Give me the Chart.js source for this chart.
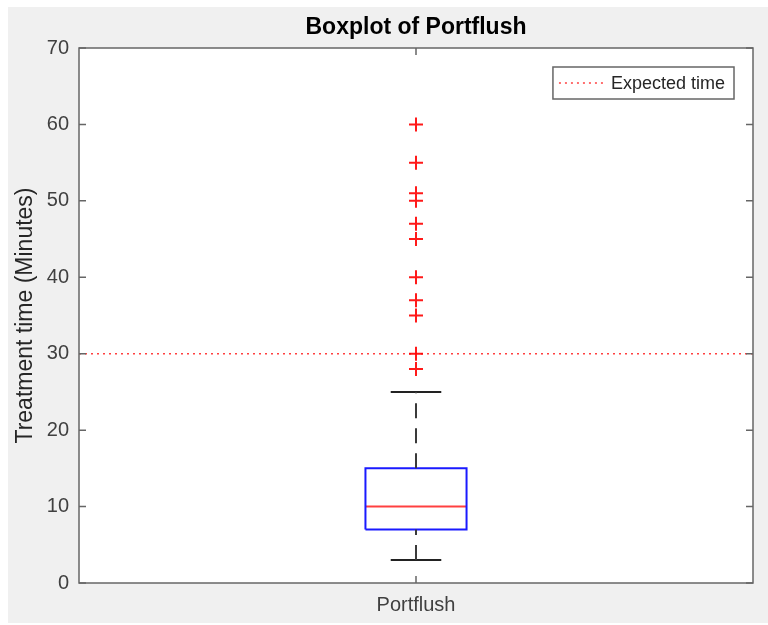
<!DOCTYPE html>
<html>
<head>
<meta charset="utf-8">
<script src="https://cdn.jsdelivr.net/npm/chart.js@4.4.1/dist/chart.umd.min.js"></script>
<style>
  html, body { margin: 0; padding: 0; background: #ffffff; }
  #wrap { position: absolute; left: 8px; top: 7px; width: 760px; height: 616px; background: #f0f0f0; }
</style>
</head>
<body>
<div id="wrap"><canvas id="boxChart"></canvas></div>
<script>
// Dados do boxplot
const categories = ['Portflush'];
const q1 = [7];
const median = [10];
const q3 = [15];
const whiskerLow = [3];
const whiskerHigh = [25];
const outliers = [28, 30, 35, 37, 40, 45, 47, 50, 51, 55, 60];
const expectedTime = [30];
const yTicks = [0, 10, 20, 30, 40, 50, 60, 70];

const chartTitle = 'Boxplot of Portflush';
const FONT = "'Liberation Sans', Arial, Helvetica, sans-serif";
const boxHalf = 0.075;   // meia largura da caixa (unidades do eixo x)
const capHalf = 0.0375;  // meia largura dos "caps"

const pos = 1; // posição da categoria no eixo x

// Dados para cada parte do boxplot
const boxData = [
  { x: pos - boxHalf, y: q1[0] }, { x: pos + boxHalf, y: q1[0] },
  { x: pos + boxHalf, y: q3[0] }, { x: pos - boxHalf, y: q3[0] },
  { x: pos - boxHalf, y: q1[0] }
];

const datasets = [
  {
    label: 'Expected time',
    data: [{ x: 0.5, y: expectedTime[0] }, { x: 1.5, y: expectedTime[0] }],
    showLine: true, borderColor: 'rgba(255, 0, 0, 0.75)', borderWidth: 1.5,
    borderDash: [2, 4], pointRadius: 0, inLegend: true,
  },
  {
    label: 'upper whisker',
    data: [{ x: pos, y: q3[0] }, { x: pos, y: whiskerHigh[0] }],
    showLine: true, borderColor: '#3a3a3a', borderWidth: 2, borderDash: [15, 10], pointRadius: 0,
  },
  {
    label: 'lower whisker',
    data: [{ x: pos, y: whiskerLow[0] }, { x: pos, y: q1[0] }],
    showLine: true, borderColor: '#3a3a3a', borderWidth: 2, borderDash: [15, 10], pointRadius: 0,
  },
  {
    label: 'upper cap',
    data: [{ x: pos - capHalf, y: whiskerHigh[0] }, { x: pos + capHalf, y: whiskerHigh[0] }],
    showLine: true, borderColor: '#222222', borderWidth: 2, pointRadius: 0,
  },
  {
    label: 'lower cap',
    data: [{ x: pos - capHalf, y: whiskerLow[0] }, { x: pos + capHalf, y: whiskerLow[0] }],
    showLine: true, borderColor: '#222222', borderWidth: 2, pointRadius: 0,
  },
  {
    label: 'box',
    data: boxData,
    showLine: true, borderColor: '#1a1aff', borderWidth: 2, pointRadius: 0,
  },
  {
    label: 'median',
    data: [{ x: pos - boxHalf, y: median[0] }, { x: pos + boxHalf, y: median[0] }],
    showLine: true, borderColor: '#ff4040', borderWidth: 2, pointRadius: 0,
  },
  {
    label: 'outliers',
    data: outliers.map(v => ({ x: pos, y: v })),
    showLine: false, pointStyle: 'cross', pointRadius: 7, pointBorderWidth: 2,
    pointBorderColor: '#ff1a1a', pointBackgroundColor: '#ff1a1a',
  },
];

// Plugin: fundo branco, moldura, ticks para dentro, título e legenda estilo MATLAB
const matlabFrame = {
  id: 'matlabFrame',
  beforeDraw(chart) {
    const { ctx, chartArea: a } = chart;
    ctx.save();
    ctx.fillStyle = '#ffffff';
    ctx.fillRect(a.left, a.top, a.width, a.height);
    ctx.restore();
  },
  afterDraw(chart) {
    const { ctx, chartArea: a, scales } = chart;
    ctx.save();
    ctx.strokeStyle = '#666666';
    ctx.lineWidth = 1.5;
    ctx.strokeRect(a.left, a.top, a.width, a.height);
    ctx.beginPath();
    scales.y.ticks.forEach(t => {
      const py = scales.y.getPixelForValue(t.value);
      ctx.moveTo(a.left, py); ctx.lineTo(a.left + 7, py);
      ctx.moveTo(a.right, py); ctx.lineTo(a.right - 7, py);
    });
    scales.x.ticks.forEach(t => {
      const px = scales.x.getPixelForValue(t.value);
      ctx.moveTo(px, a.bottom); ctx.lineTo(px, a.bottom - 7);
      ctx.moveTo(px, a.top); ctx.lineTo(px, a.top + 7);
    });
    ctx.stroke();

    // título centrado sobre a área do gráfico
    ctx.fillStyle = '#000000';
    ctx.font = 'bold 23px ' + FONT;
    ctx.textAlign = 'center';
    ctx.textBaseline = 'middle';
    ctx.fillText(chartTitle, (a.left + a.right) / 2, a.top - 20);

    // legenda
    const ds = chart.data.datasets.find(d => d.inLegend);
    ctx.font = '18px ' + FONT;
    ctx.textAlign = 'left';
    const textW = ctx.measureText(ds.label).width;
    const w = 58 + textW + 9, h = 32;
    const left = a.right - 19 - w, top = a.top + 19;
    ctx.fillStyle = '#ffffff';
    ctx.fillRect(left, top, w, h);
    ctx.strokeStyle = '#666666';
    ctx.lineWidth = 1.5;
    ctx.strokeRect(left, top, w, h);
    ctx.beginPath();
    ctx.strokeStyle = ds.borderColor;
    ctx.lineWidth = ds.borderWidth;
    ctx.setLineDash(ds.borderDash);
    ctx.moveTo(left + 6, top + h / 2);
    ctx.lineTo(left + 52, top + h / 2);
    ctx.stroke();
    ctx.setLineDash([]);
    ctx.fillStyle = '#262626';
    ctx.fillText(ds.label, left + 58, top + h / 2 + 1);
    ctx.restore();
  }
};

const ctxBox = document.getElementById('boxChart').getContext('2d');

new Chart(ctxBox, {
  type: 'scatter',
  data: { datasets: datasets },
  options: {
    responsive: true,
    maintainAspectRatio: false,
    animation: false,
    layout: { padding: { left: 0, right: 15, top: 41, bottom: 0 } },
    plugins: {
      legend: { display: false },
      tooltip: { enabled: false },
      title: { display: false },
    },
    scales: {
      x: {
        type: 'linear',
        min: 0.5,
        max: 1.5,
        grid: { display: false, drawTicks: false },
        border: { display: false },
        afterBuildTicks: (s) => { s.ticks = [{ value: pos }]; },
        afterFit: (s) => { s.height = 40; },
        ticks: {
          color: '#404040',
          padding: 10,
          font: { family: FONT, size: 20 },
          callback: (v) => (v === pos ? categories[0] : ''),
        },
      },
      y: {
        min: 0,
        max: 70,
        grid: { display: false, drawTicks: false },
        border: { display: false },
        afterBuildTicks: (s) => { s.ticks = yTicks.map(v => ({ value: v })); },
        afterFit: (s) => { s.width = 71; },
        title: {
          display: true,
          text: 'Treatment time (Minutes)',
          color: '#262626',
          font: { family: FONT, size: 23 },
          padding: { top: 4, bottom: 0 },
        },
        ticks: {
          color: '#404040',
          padding: 10,
          font: { family: FONT, size: 20 },
        },
      },
    },
  },
  plugins: [matlabFrame],
});
</script>
</body>
</html>
